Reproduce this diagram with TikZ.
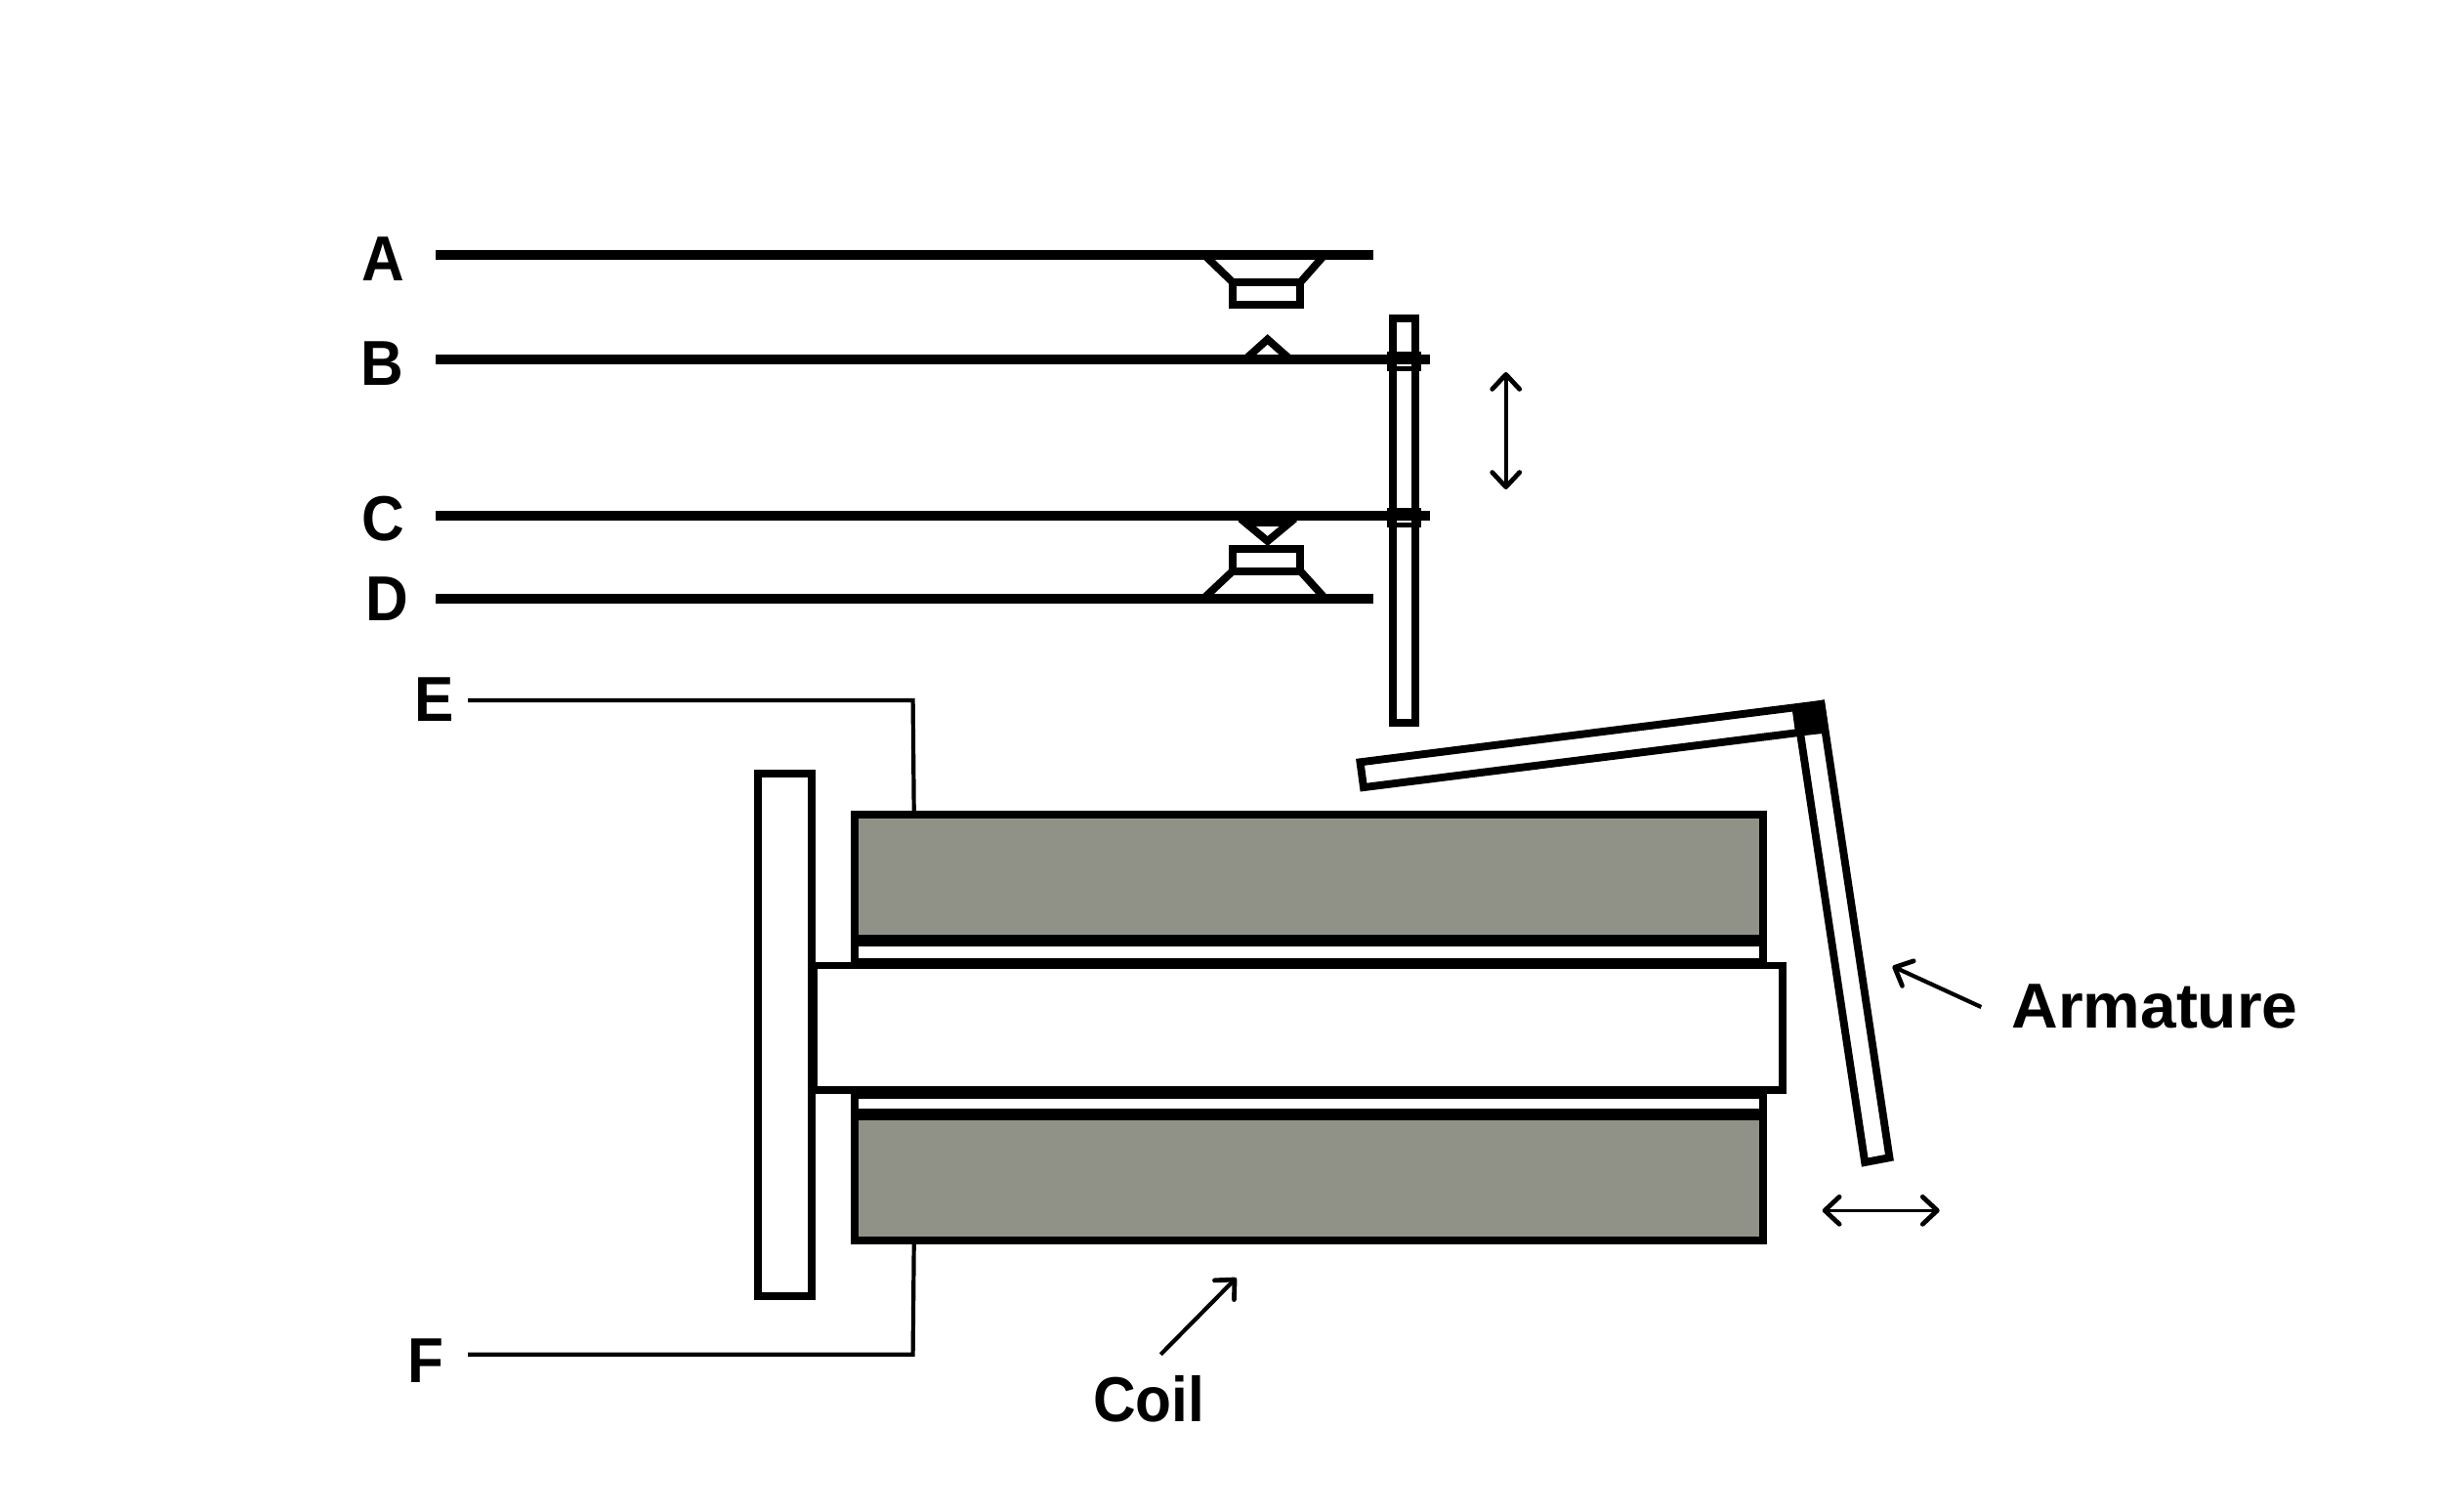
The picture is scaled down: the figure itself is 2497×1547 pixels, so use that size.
\documentclass[tikz,border=0pt]{standalone}
\usepackage{fontspec}
\setmainfont{Liberation Sans}[BoldFeatures={FakeStretch=0.93}]
\newfontfamily\widelabelfont{Liberation Sans}[BoldFeatures={FakeStretch=1.015}]
\usetikzlibrary{arrows.meta}
\definecolor{coilgrey}{HTML}{919287}
\tikzset{
    labeltext/.style={font=\fontsize{65pt}{65pt}\selectfont\bfseries, anchor=base, inner sep=0pt},
    widelabel/.style={labeltext, font=\fontsize{65pt}{65pt}\selectfont\widelabelfont\bfseries},
    wire/.style={line width=10pt},
    part/.style={draw, fill=white, line width=7.9pt, miter limit=10},
    contact/.style={draw, line width=7.8pt},
    clamp/.style={draw, line width=4.5pt},
    divider/.style={line width=11.5pt},
    leaderline/.style={line width=4.2pt},
    barb/.tip={Straight Barb[length=15pt,width=28pt,line width=4.8pt,round]},
    motion/.style={line width=3.6pt, barb-barb},
    pointer/.style={line width=4.2pt, -barb}
}
\begin{document}
\begin{tikzpicture}[x=1pt, y=-1pt]
    \useasboundingbox (0,0) rectangle (2497,1547);

    % Labels
    \node(lblA) [labeltext] at (392,287) {A};
    \node(lblB) [labeltext] at (391.3,394.3) {B};
    \node(lblC) [labeltext] at (392.8,553.5) {C};
    \node(lblD) [labeltext] at (396,635) {D};
    \node(lblE) [labeltext] at (445,738.7) {E};
    \node(lblF) [labeltext] at (435.5,1415.3) {F};
    \node(lblCoil) [labeltext] at (1176.3,1455.7) {Coil};
    \node(lblArmature) [widelabel] at (2206,1052.3) {Armature};

    % Contact wires
    \draw[wire] (446,260.7) -- (1406,260.7);
    \draw[wire] (446,367.7) -- (1464,367.7);
    \draw[wire] (446,527.7) -- (1464,527.7);
    \draw[wire] (446,612.7) -- (1406,612.7);

    % Contact points
    \draw[contact] (1233,261) -- (1262,289) (1356,261) -- (1331.3,289);
    \draw[contact, fill=white] (1262,289) rectangle (1331.3,311.7);
    \draw[contact] (1277,366) -- (1297.7,347.4) -- (1318.7,366);
    \draw[contact] (1270,531) -- (1297.7,554) -- (1325.4,531);
    \draw[contact] (1275,535) -- (1320.4,535);
    \draw[contact] (1233,612) -- (1262,584.7) (1356,612) -- (1331.3,584.7);
    \draw[contact, fill=white] (1262,562) rectangle (1331.3,584.7);

    % Push rod
    \draw[part, fill=none] (1426.2,326) rectangle (1448.8,740);
    \draw[clamp] (1422.7,362) rectangle (1452.7,377.3);
    \draw[clamp] (1422.7,522) rectangle (1452.7,537.3);

    % Armature
    \draw[part] (1392.5,780.3) -- (1864.4,720.9) -- (1867.9,746.7) -- (1396,806.1) -- cycle;
    \draw[part] (1839.3,725.7) -- (1864.5,720.9) -- (1934.4,1185.2) -- (1909.2,1190) -- cycle;
    \fill (1835,728.3) -- (1864.4,720.9) -- (1866,751) -- (1838.5,754) -- cycle;

    % Yoke plate
    \draw[part] (776.3,792.3) rectangle (830.7,1326.7);

    % Coil
    \draw[part] (875.3,834) rectangle (1804.7,984.5);
    \fill[coilgrey] (879,838) rectangle (1801,963);
    \draw[divider] (875.3,963.2) -- (1804.7,963.2);
    \draw[part] (875.3,1121) rectangle (1804.7,1270.3);
    \fill[coilgrey] (879,1141) rectangle (1801,1266.3);
    \draw[divider] (875.3,1141) -- (1804.7,1141);

    % Core
    \draw[part] (833.5,988.5) rectangle (1824.7,1116.3);

    % Leader lines
    \coordinate(startE) at (479,717);
    \coordinate(cornerE) at (934.6,717);
    \coordinate(endE) at (935.7,830);
    \coordinate(startF) at (479,1386.7);
    \coordinate(cornerF) at (934.6,1386.7);
    \coordinate(endF) at (935.7,1274);
    \draw[leaderline] (startE) -- (cornerE) -- (endE);
    \draw[leaderline] (startF) -- (cornerF) -- (endF);

    % Arrows
    \coordinate(upEnd) at (1541.7,381);
    \coordinate(downEnd) at (1541.7,501);
    \coordinate(leftEnd) at (1865.7,1239.3);
    \coordinate(rightEnd) at (1985.7,1239.3);
    \coordinate(coilFrom) at (1188.3,1386.7);
    \coordinate(coilTo) at (1265.7,1308.3);
    \coordinate(armFrom) at (2028.3,1031);
    \coordinate(armTo) at (1937.5,989.3);
    \draw[motion] (upEnd) -- (downEnd);
    \draw[motion] (leftEnd) -- (rightEnd);
    \draw[pointer] (coilFrom) -- (coilTo);
    \draw[pointer] (armFrom) -- (armTo);

\end{tikzpicture}
\end{document}
